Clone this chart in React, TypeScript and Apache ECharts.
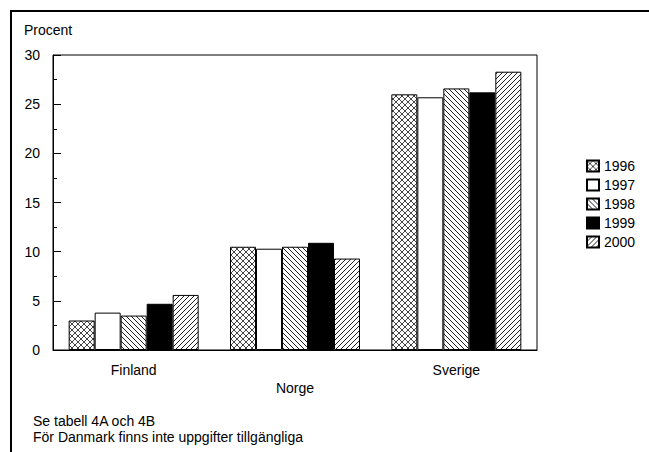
import React, { useEffect, useRef } from "react";
import * as echarts from "echarts";

const categories = ["Finland", "Norge", "Sverige"];
const years = ["1996", "1997", "1998", "1999", "2000"];
const values1996 = [3.0, 10.5, 26.0];
const values1997 = [3.8, 10.3, 25.7];
const values1998 = [3.5, 10.5, 26.6];
const values1999 = [4.7, 10.9, 26.2];
const values2000 = [5.6, 9.3, 28.3];
const seriesValues = [values1996, values1997, values1998, values1999, values2000];
const yTicks = [0, 5, 10, 15, 20, 25, 30];
const yTitle = "Procent";
const notes = ["Se tabell 4A och 4B", "För Danmark finns inte uppgifter tillgängliga"];

const FONT = "'Liberation Sans', Arial, sans-serif";
const FS = 14;

function makePattern(kind: string): any {
  const n = kind === "cross" ? 6 : 5;
  const c = document.createElement("canvas");
  c.width = n;
  c.height = n;
  const ctx = c.getContext("2d")!;
  ctx.fillStyle = "#fff";
  ctx.fillRect(0, 0, n, n);
  ctx.fillStyle = kind === "cross" ? "#444" : "#222";
  for (let i = 0; i < n; i++) {
    if (kind === "back" || kind === "cross") ctx.fillRect(i, i, 1, 1);
    if (kind === "fwd" || kind === "cross") ctx.fillRect(i, n - 1 - i, 1, 1);
  }
  return { image: c, repeat: "repeat", imageWidth: n, imageHeight: n };
}

export default function App() {
  const ref = useRef<HTMLDivElement>(null);
  useEffect(() => {
    if (!ref.current) return;
    const chart = echarts.init(ref.current, undefined, { renderer: "svg" });
    const fills: any[] = [
      makePattern("cross"),
      "#ffffff",
      makePattern("back"),
      "#000000",
      makePattern("fwd"),
    ];
    chart.setOption({
      animation: false,
      backgroundColor: "#fff",
      textStyle: { fontFamily: FONT, color: "#000" },
      grid: {
        left: 53,
        right: 112,
        top: 55,
        bottom: 102,
        show: true,
        borderColor: "#000",
        borderWidth: 1,
        backgroundColor: "transparent",
      },
      legend: {
        orient: "vertical",
        left: 581,
        top: 154,
        itemWidth: 12,
        itemHeight: 11,
        itemGap: 5,
        icon: "rect",
        textStyle: { fontSize: FS, fontFamily: FONT, color: "#000" },
        data: years,
      },
      xAxis: {
        type: "category",
        data: categories,
        axisLine: { lineStyle: { color: "#000", width: 1 } },
        axisTick: { show: false },
        axisLabel: {
          interval: 0,
          margin: 11,
          fontSize: FS,
          fontFamily: FONT,
          color: "#000",
          lineHeight: 18,
          formatter: (v: string, i: number) => (i === 1 ? "\n" + v : v),
        },
      },
      yAxis: {
        type: "value",
        min: yTicks[0],
        max: yTicks[yTicks.length - 1],
        interval: 5,
        axisLine: { show: true, lineStyle: { color: "#000", width: 1 } },
        axisTick: { show: true, inside: true, length: 8, lineStyle: { color: "#000" } },
        minorTick: { show: true, splitNumber: 2, length: 4, lineStyle: { color: "#000" } },
        splitLine: { show: false },
        axisLabel: { margin: 13, fontSize: FS, fontFamily: FONT, color: "#000" },
      },
      series: years.map((y, i) => ({
        name: y,
        type: "bar",
        data: seriesValues[i],
        barWidth: 26,
        barGap: "0%",
        itemStyle: { color: fills[i], borderColor: "#000", borderWidth: 1 },
      })),
      graphic: [
        {
          type: "rect",
          shape: { x: 11, y: 11, width: 660, height: 470 },
          style: { fill: "none", stroke: "#000", lineWidth: 2 },
          silent: true,
        },
        {
          type: "text",
          left: 24,
          top: 23,
          style: { text: yTitle, fontSize: FS, fontFamily: FONT, fill: "#000" },
        },
        {
          type: "text",
          left: 33,
          top: 414,
          style: { text: notes[0], fontSize: FS, fontFamily: FONT, fill: "#000" },
        },
        {
          type: "text",
          left: 33,
          top: 430,
          style: { text: notes[1], fontSize: FS, fontFamily: FONT, fill: "#000" },
        },
      ],
    });
    return () => chart.dispose();
  }, []);
  return <div ref={ref} style={{ width: 649, height: 452, position: "absolute", left: 0, top: 0 }} />;
}
